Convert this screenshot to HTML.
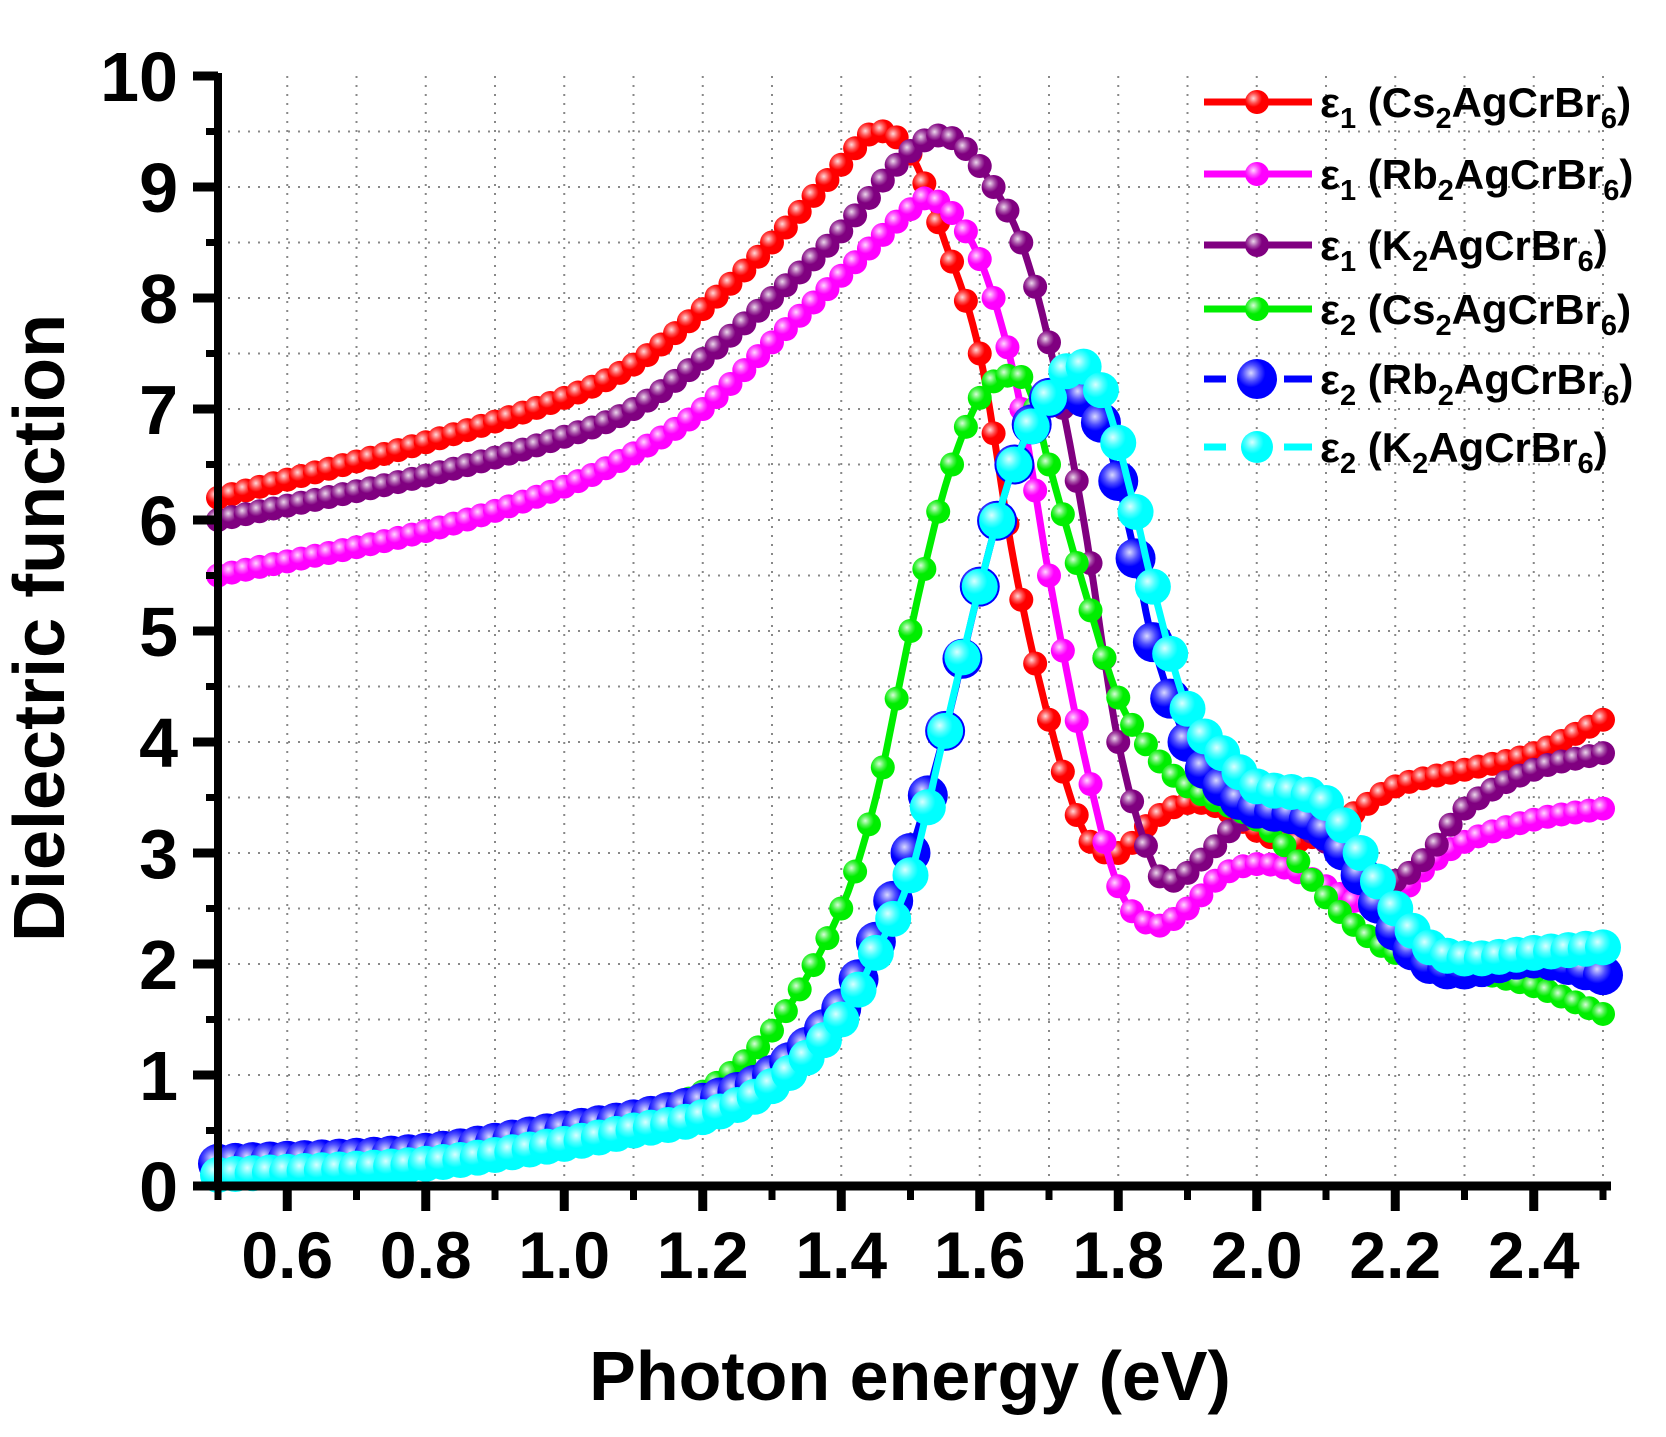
<!DOCTYPE html>
<html><head><meta charset="utf-8">
<style>
html,body{margin:0;padding:0;background:#fff;}
svg{display:block;font-family:"Liberation Sans",Arial,sans-serif;font-weight:bold;}
</style></head>
<body>
<svg id="s" width="1666" height="1437" viewBox="0 0 1666 1437" xmlns="http://www.w3.org/2000/svg">
<defs>
<radialGradient id="hl" cx="0.35" cy="0.35" r="0.6">
<stop offset="0" stop-color="#fff" stop-opacity="0.85"/>
<stop offset="0.35" stop-color="#fff" stop-opacity="0.3"/>
<stop offset="0.6" stop-color="#fff" stop-opacity="0"/>
</radialGradient>
</defs>
<g id="grid"></g>
<g id="series"></g>
<g id="axes"></g>
<g id="legend"></g>
<text x="45" y="628" font-size="72" text-anchor="middle" transform="rotate(-90 45 628)" dominant-baseline="middle">Dielectric function</text>
<text x="910" y="1400" font-size="70" text-anchor="middle">Photon energy (eV)</text>
</svg>
<script>
var NS="http://www.w3.org/2000/svg";
var X0=218,XS=692.5,Y0=1186,YS=111;
function px(x){return X0+(x-0.5)*XS;}function py(y){return Y0-y*YS;}
function el(p,t,a){var e=document.createElementNS(NS,t);for(var k in a)e.setAttribute(k,a[k]);p.appendChild(e);return e;}
var G=document.getElementById('grid'),S=document.getElementById('series'),A=document.getElementById('axes'),L=document.getElementById('legend');
for(var i=6;i<=25;i++){var x=px(i/10);el(G,'line',{x1:x,x2:x,y1:py(10),y2:Y0,stroke:'#888','stroke-width':2,'stroke-dasharray':'2 7'});}
for(var j=1;j<=19;j++){var y=py(j/2);el(G,'line',{x1:X0,x2:px(2.5),y1:y,y2:y,stroke:'#888','stroke-width':2,'stroke-dasharray':'2 8'});}
el(A,'line',{x1:X0,x2:X0,y1:py(10)-3,y2:Y0+4,stroke:'#000','stroke-width':8});
el(A,'line',{x1:X0-4,x2:px(2.5)+8,y1:Y0,y2:Y0,stroke:'#000','stroke-width':9});
for(var j=0;j<=20;j++){var y=py(j/2),maj=j%2==0;el(A,'line',{x1:X0-(maj?25:12),x2:X0,y1:y,y2:y,stroke:'#000','stroke-width':maj?9:7});
 if(maj){var t=el(A,'text',{x:178,y:y+25,'font-size':70,'text-anchor':'end'});t.textContent=(j/2);}}
for(var i=5;i<=25;i++){var x=px(i/10),maj=i%2==0;el(A,'line',{x1:x,x2:x,y1:Y0,y2:Y0+(maj?25:14),stroke:'#000','stroke-width':maj?9:7});
 if(maj&&i>=6&&i<=24){var t=el(A,'text',{x:x,y:1278,'font-size':66,'text-anchor':'middle'});t.textContent=(i/10).toFixed(1);}}
function interp(pts,x){for(var k=0;k<pts.length-1;k++){if(x<=pts[k+1][0]){var a=pts[k],b=pts[k+1];var t=(x-a[0])/(b[0]-a[0]);
 var p0=pts[Math.max(k-1,0)],p3=pts[Math.min(k+2,pts.length-1)];
 var m1=(b[1]-p0[1])/(b[0]-p0[0])*(b[0]-a[0]),m2=(p3[1]-a[1])/(p3[0]-a[0])*(b[0]-a[0]);
 var t2=t*t,t3=t2*t;return (2*t3-3*t2+1)*a[1]+(t3-2*t2+t)*m1+(-2*t3+3*t2)*b[1]+(t3-t2)*m2;}}return pts[pts.length-1][1];}
var series=[
{c:'#ff0000',r:12,w:7,dx:0.02,p:[[0.5,6.2],[0.8,6.7],[1.0,7.1],[1.1,7.4],[1.2,7.9],[1.3,8.5],[1.4,9.2],[1.45,9.5],[1.5,9.3],[1.55,8.5],[1.6,7.5],[1.65,5.6],[1.7,4.2],[1.75,3.2],[1.8,3.0],[1.85,3.3],[1.9,3.45],[1.95,3.4],[2.0,3.2],[2.05,3.1],[2.1,3.2],[2.15,3.4],[2.2,3.6],[2.3,3.75],[2.4,3.9],[2.5,4.2]]},
{c:'#ff00ff',r:12,w:7,dx:0.02,p:[[0.5,5.5],[0.8,5.9],[1.0,6.3],[1.1,6.6],[1.2,7.0],[1.3,7.6],[1.4,8.2],[1.5,8.8],[1.53,8.9],[1.58,8.6],[1.62,8.0],[1.66,7.0],[1.7,5.5],[1.75,3.9],[1.8,2.7],[1.85,2.35],[1.9,2.5],[1.95,2.8],[2.0,2.9],[2.05,2.85],[2.1,2.7],[2.15,2.55],[2.2,2.6],[2.25,2.9],[2.3,3.1],[2.4,3.3],[2.5,3.4]]},
{c:'#800080',r:12,w:7,dx:0.02,p:[[0.5,6.0],[0.8,6.4],[1.0,6.75],[1.1,7.0],[1.2,7.45],[1.3,8.0],[1.4,8.6],[1.48,9.2],[1.53,9.45],[1.57,9.4],[1.62,9.0],[1.66,8.5],[1.7,7.6],[1.75,6.0],[1.8,4.0],[1.85,2.9],[1.88,2.75],[1.93,3.0],[1.98,3.3],[2.03,3.35],[2.1,3.1],[2.15,2.8],[2.2,2.75],[2.25,3.0],[2.3,3.4],[2.4,3.75],[2.5,3.9]]},
{c:'#00ee00',r:12,w:7,dx:0.02,p:[[0.5,0.2],[0.8,0.3],[1.0,0.5],[1.1,0.65],[1.2,0.85],[1.3,1.4],[1.4,2.5],[1.45,3.5],[1.5,5.0],[1.55,6.3],[1.6,7.1],[1.64,7.3],[1.67,7.2],[1.7,6.5],[1.75,5.4],[1.8,4.4],[1.85,3.9],[1.9,3.6],[2.0,3.3],[2.05,3.0],[2.1,2.6],[2.15,2.3],[2.2,2.1],[2.3,1.95],[2.4,1.8],[2.5,1.55]]},
{c:'#0000ff',r:20,w:7,dx:0.025,p:[[0.5,0.2],[0.8,0.3],[1.0,0.5],[1.1,0.6],[1.2,0.75],[1.3,1.0],[1.4,1.6],[1.45,2.2],[1.5,3.0],[1.55,4.1],[1.6,5.4],[1.65,6.5],[1.7,7.1],[1.74,7.15],[1.78,6.8],[1.82,5.8],[1.85,4.9],[1.9,4.0],[1.95,3.6],[2.0,3.4],[2.05,3.35],[2.1,3.2],[2.15,2.8],[2.2,2.3],[2.25,2.0],[2.3,1.95],[2.4,2.05],[2.5,1.9]]},
{c:'#00ffff',r:18,w:7,dx:0.025,p:[[0.5,0.1],[0.8,0.2],[1.0,0.38],[1.1,0.5],[1.2,0.62],[1.3,0.9],[1.4,1.5],[1.45,2.1],[1.5,2.8],[1.55,4.1],[1.6,5.4],[1.65,6.5],[1.7,7.1],[1.74,7.4],[1.78,7.1],[1.82,6.2],[1.85,5.4],[1.9,4.3],[1.95,3.9],[2.0,3.6],[2.05,3.55],[2.1,3.45],[2.15,3.0],[2.2,2.5],[2.25,2.15],[2.3,2.05],[2.4,2.1],[2.5,2.15]]}
];
series.forEach(function(s){var g=el(S,'g',{});var d='';
 for(var x=0.5;x<=2.5001;x+=0.005){d+=(d?'L':'M')+px(x).toFixed(1)+','+py(interp(s.p,x)).toFixed(1);}
 el(g,'path',{d:d,fill:'none',stroke:s.c,'stroke-width':s.w});
 for(var x=0.5;x<=2.5001;x+=s.dx){var cx=px(x),cy=py(interp(s.p,x));el(g,'circle',{cx:cx,cy:cy,r:s.r,fill:s.c});el(g,'circle',{cx:cx,cy:cy,r:s.r,fill:'url(#hl)'});}
});
var names=[['1','Cs'],['1','Rb'],['1','K'],['2','Cs'],['2','Rb'],['2','K']];
var ly=[102,174,245,309,379,447];
series.forEach(function(s,i){var y=ly[i];
 if(i<4){el(L,'line',{x1:1204,x2:1312,y1:y,y2:y,stroke:s.c,'stroke-width':7});}
 else{el(L,'line',{x1:1204,x2:1226,y1:y,y2:y,stroke:s.c,'stroke-width':7});el(L,'line',{x1:1284,x2:1312,y1:y,y2:y,stroke:s.c,'stroke-width':7});}
 var r=i<4?12:(i==4?20:16);
 el(L,'circle',{cx:1257,cy:y,r:r,fill:s.c});el(L,'circle',{cx:1257,cy:y,r:r,fill:'url(#hl)'});
 var t=el(L,'text',{x:1320,y:y+15,'font-size':42});
 t.innerHTML='ε<tspan font-size="29" dy="11">'+names[i][0]+'</tspan><tspan dy="-11"> ('+names[i][1]+'</tspan><tspan font-size="29" dy="11">2</tspan><tspan dy="-11">AgCrBr</tspan><tspan font-size="29" dy="11">6</tspan><tspan dy="-11">)</tspan>';
});
</script>
</body></html>
